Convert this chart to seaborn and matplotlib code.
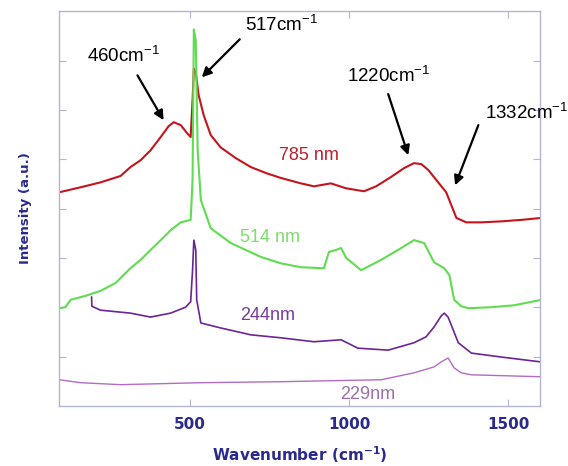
import matplotlib
matplotlib.use("Agg")
import matplotlib.pyplot as plt
import seaborn as sns
import numpy as np
import pandas as pd

# Raman spectra, offset for clarity
wn_785 = [91, 157, 220, 283, 314, 346, 377, 409, 434, 450, 472, 494, 503, 509, 513, 519, 528, 544,
          566, 597, 645, 692, 739, 786, 849, 890, 943, 991, 1047, 1085, 1132, 1173, 1204, 1227,
          1249, 1280, 1305, 1321, 1337, 1368, 1415, 1478, 1541, 1604]
int_785 = [4.33, 4.43, 4.53, 4.66, 4.84, 4.98, 5.18, 5.45, 5.67, 5.75, 5.69, 5.51, 5.45, 6.19, 6.84,
           6.76, 6.30, 5.89, 5.49, 5.24, 5.02, 4.84, 4.72, 4.62, 4.51, 4.45, 4.51, 4.41, 4.35, 4.45,
           4.64, 4.82, 4.92, 4.90, 4.78, 4.53, 4.33, 4.07, 3.81, 3.72, 3.72, 3.74, 3.77, 3.81]

wn_514 = [91, 110, 126, 173, 220, 267, 314, 346, 377, 409, 440, 472, 503, 509, 513, 519, 525, 535,
          566, 629, 723, 786, 849, 921, 937, 959, 975, 991, 1038, 1101, 1164, 1204, 1236, 1267,
          1299, 1315, 1330, 1352, 1374, 1447, 1519, 1604]
int_514 = [1.98, 2.00, 2.15, 2.23, 2.33, 2.49, 2.79, 2.96, 3.16, 3.36, 3.56, 3.72, 3.77, 4.57, 7.63,
           7.41, 5.18, 4.17, 3.60, 3.30, 3.02, 2.89, 2.81, 2.79, 3.12, 3.16, 3.20, 3.00, 2.75, 2.96,
           3.20, 3.36, 3.30, 2.91, 2.79, 2.65, 2.15, 2.02, 1.98, 2.00, 2.04, 2.15]

wn_244 = [192, 193, 220, 314, 377, 440, 487, 503, 509, 513, 519, 522, 535, 597, 692, 786, 890, 975,
          1028, 1123, 1204, 1242, 1267, 1289, 1299, 1311, 1327, 1343, 1384, 1478, 1604]
int_244 = [2.21, 2.02, 1.94, 1.88, 1.80, 1.88, 2.00, 2.11, 2.75, 3.36, 3.16, 2.15, 1.68, 1.58, 1.44,
           1.38, 1.30, 1.34, 1.17, 1.13, 1.28, 1.40, 1.60, 1.82, 1.88, 1.80, 1.54, 1.28, 1.07, 0.99,
           0.89]

wn_229 = [91, 157, 283, 535, 786, 1101, 1204, 1267, 1289, 1311, 1330, 1352, 1384, 1604]
int_229 = [0.53, 0.47, 0.43, 0.47, 0.49, 0.53, 0.67, 0.79, 0.89, 0.97, 0.77, 0.67, 0.63, 0.59]

series = ["785 nm", "514 nm", "244nm", "229nm"]
line_colors = ["#c4141e", "#5fdc50", "#6c2496", "#b36cc4"]
text_colors = ["#bf1e28", "#7ddc6c", "#7a3a9e", "#a070aa"]

df = pd.concat([
    pd.DataFrame({"wn": wn_785, "I": int_785, "laser": "785 nm"}),
    pd.DataFrame({"wn": wn_514, "I": int_514, "laser": "514 nm"}),
    pd.DataFrame({"wn": wn_244, "I": int_244, "laser": "244nm"}),
    pd.DataFrame({"wn": wn_229, "I": int_229, "laser": "229nm"}),
])

sns.set_style("ticks")
plt.rcParams["font.family"] = ["Liberation Sans", "DejaVu Sans"]

fig = plt.figure(figsize=(5.68, 4.66), dpi=100)
ax = fig.add_axes([0.104, 0.129, 0.847, 0.847])

widths = {"785 nm": 1.5, "514 nm": 1.5, "244nm": 1.2, "229nm": 1.0}
for name, col in zip(series, line_colors):
    sub = df[df["laser"] == name]
    sns.lineplot(data=sub, x="wn", y="I", color=col, lw=widths[name],
                 estimator=None, sort=False, ax=ax, legend=False)

ax.set_xlim(90, 1600)
ax.set_ylim(0, 8)
ax.set_xticks([500, 1000, 1500])
ax.set_yticks(np.arange(1, 8))
ax.set_yticklabels([])

frame = "#b4b4d4"
for s in ax.spines.values():
    s.set_color(frame)
    s.set_linewidth(1.0)
ax.tick_params(direction="in", length=5, color=frame, top=True, right=True,
               labelcolor="#2a2a8c")
for lab in ax.get_xticklabels():
    lab.set_fontfamily("DejaVu Sans")
    lab.set_fontweight("bold")
    lab.set_fontsize(11)
ax.tick_params(axis="x", pad=8)

ax.set_xlabel("Wavenumber (cm$^{\\mathregular{-1}}$)", fontfamily="DejaVu Sans",
              fontweight="bold", fontsize=11, color="#2a2a8c", labelpad=9)
ax.set_ylabel("Intensity (a.u.)", fontfamily="DejaVu Sans", fontweight="bold",
              fontsize=9.5, color="#2a2a8c", labelpad=16)

# curve labels
label_pos = {"785 nm": (779, 5.08), "514 nm": (657, 3.42), "244nm": (657, 1.84), "229nm": (972, 0.24)}
for name, col in zip(series, text_colors):
    x, y = label_pos[name]
    ax.text(x, y, name, color=col, fontsize=13, va="center", ha="left")

# peak annotations
peaks = ["460cm$^{\\mathregular{-1}}$", "517cm$^{\\mathregular{-1}}$",
         "1220cm$^{\\mathregular{-1}}$", "1332cm$^{\\mathregular{-1}}$"]
peak_text = [(179, 7.1), (672, 7.72), (995, 6.7), (1427, 5.95)]
arrow_tail = [(336, 6.70), (657, 7.43), (1123, 6.32), (1406, 5.69)]
arrow_tip = [(418, 5.79), (538, 6.66), (1186, 5.08), (1333, 4.47)]
for lbl, tp in zip(peaks, peak_text):
    ax.text(tp[0], tp[1], lbl, fontsize=13.5, color="black", va="center", ha="left",
            clip_on=False)
for tail, tip in zip(arrow_tail, arrow_tip):
    ax.annotate("", xy=tip, xytext=tail,
                arrowprops=dict(arrowstyle="-|>", color="black", lw=1.6,
                                mutation_scale=14, shrinkA=0, shrinkB=0))

fig.savefig("out.png", dpi=100, facecolor="white")
